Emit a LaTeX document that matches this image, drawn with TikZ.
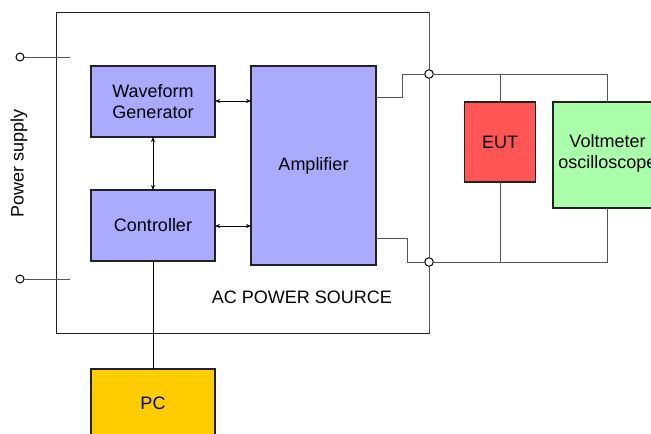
\documentclass[tikz,border=0pt]{standalone}
\usepackage{fontspec}
\setmainfont{Liberation Sans}
\usetikzlibrary{arrows.meta}
\definecolor{blk}{HTML}{AAAAFF}
\definecolor{eut}{HTML}{FF5555}
\definecolor{vm}{HTML}{AAFFAA}
\definecolor{pc}{HTML}{FFCC00}
\definecolor{wire}{HTML}{555555}
\definecolor{edge}{HTML}{222222}
\begin{document}
\begin{tikzpicture}[x=1pt,y=-1pt,
  every node/.style={font=\fontsize{18}{21}\selectfont, inner sep=0pt, outer sep=0pt},
  box/.style={draw=edge, line width=1.2pt, align=center},
  wire/.style={draw=wire, line width=1pt},
  link/.style={draw=black, line width=0.8pt, {Stealth[length=5pt,width=4pt]}-{Stealth[length=5pt,width=4pt]}},
  term/.style={circle, draw=black, fill=white, line width=1pt, minimum size=8.5pt}]
\useasboundingbox (0,0) rectangle (651,434);
\clip (0,0) rectangle (651,434);
% outer frame
\draw[draw=edge, line width=1pt] (56,12) rectangle (429,333);
\node (acps) at (302,297) {AC POWER SOURCE};
% blocks
\node[box, fill=blk, minimum width=124pt, minimum height=71pt] (wg) at (153,101.5) {Waveform\\Generator};
\node[box, fill=blk, minimum width=124pt, minimum height=71pt] (ctl) at (153,225.5) {Controller};
\node[box, fill=blk, minimum width=125pt, minimum height=199pt] (amp) at (313.5,165.5) {Amplifier};
\node[box, fill=pc, minimum width=124pt, minimum height=76pt] (pc) at (153,407) {};
\node (pct) at (153,403) {PC};
\node[box, fill=eut, minimum width=71pt, minimum height=80pt] (eut) at (500,142) {EUT};
\node[box, fill=vm, minimum width=108pt, minimum height=106pt] (vm) at (607,155) {};
\node[align=center] (vmt) at (607.5,153) {Voltmeter\\oscilloscope};
% internal links
\draw[link] (wg.east |- 0,101) -- (amp.west |- 0,101);
\draw[link] (ctl.east |- 0,226) -- (amp.west |- 0,226);
\draw[link] (wg.south) -- (ctl.north);
\draw[wire, draw=black, line width=0.8pt] (ctl.south) -- (pc.north);
% power supply
\node[term, minimum size=8pt] (p1) at (20,57) {};
\node[term, minimum size=8pt] (p2) at (20,279) {};
\coordinate (p1e) at (70,57);
\coordinate (p2e) at (70,279);
\draw[wire] (p1) -- (p1e);
\draw[wire] (p2) -- (p2e);
\node[rotate=90] (ps) at (19,163) {Power supply};
% output terminals
\coordinate (rt) at (429,12);
\coordinate (rb) at (429,333);
\node[term] (o1) at (429,74) {};
\node[term] (o2) at (429,262) {};
\draw[wire] (rt) -- (o1) -- (o2) -- (rb);
\draw[wire] (amp.east |- 0,97) -- (402,97) -- (402,74) -- (o1);
\draw[wire] (amp.east |- 0,238) -- (407,238) -- (407,262) -- (o2);
% load wiring
\coordinate (tr) at (607,74);
\coordinate (br) at (607,262);
\draw[wire] (o1) -- (tr) -- (vm.north);
\draw[wire] (o2) -- (br) -- (vm.south);
\draw[wire] (eut.north) -- (eut.north |- o1);
\draw[wire] (eut.south) -- (eut.south |- o2);
\end{tikzpicture}
\end{document}
